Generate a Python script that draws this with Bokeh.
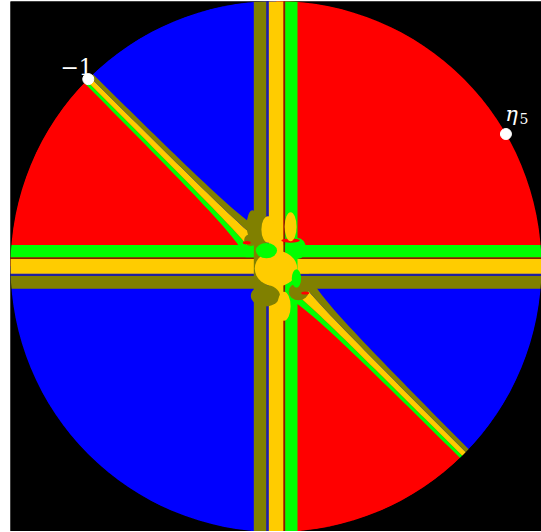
import numpy as np
from bokeh.plotting import figure
from bokeh.models import Range1d, ColumnDataSource
from bokeh.core.properties import value
from bokeh.embed import file_html
from bokeh.resources import INLINE

# ---- data ----
RED, BLUE, GREEN, YELLOW, OLIVE = "#FF0000", "#0000FF", "#00FF00", "#FFCC00", "#808000"
NAVY, BROWN = "#2020A0", "#802000"

sector_start_deg = [0, 90, 135, 180, 270, 315]
sector_end_deg = [90, 135, 180, 270, 315, 360]
sector_colors = [RED, BLUE, RED, BLUE, RED, BLUE]

# straight bands (offset across the band, unit-disk coords)
band_lo = [-0.0836, -0.0358, -0.0271, 0.0283, 0.0347]
band_hi = [-0.0358, -0.0271, 0.0283, 0.0347, 0.0810]
band_colors = [OLIVE, NAVY, YELLOW, BROWN, GREEN]

# diagonal band along y = -x (offset along normal (1,1)/sqrt2)
diag_lo = [-0.0216, -0.0090, 0.0102]
diag_hi = [-0.0090, 0.0102, 0.0264]
diag_colors = [GREEN, YELLOW, OLIVE]

# central blobs
blob_x = [0.000, -0.036, 0.081, -0.040, 0.085, 0.077, 0.055, -0.095, -0.088, 0.055, 0.030, -0.030, -0.110, 0.110]
blob_y = [-0.008, 0.060, 0.068, -0.110, -0.095, -0.045, 0.098, 0.100, 0.155, 0.150, -0.150, 0.140, 0.090, -0.100]
blob_w = [0.160, 0.080, 0.065, 0.110, 0.075, 0.035, 0.070, 0.050, 0.045, 0.045, 0.050, 0.050, 0.030, 0.030]
blob_h = [0.135, 0.058, 0.080, 0.080, 0.065, 0.070, 0.016, 0.045, 0.115, 0.110, 0.110, 0.100, 0.012, 0.012]
blob_colors = [YELLOW, GREEN, GREEN, OLIVE, OLIVE, GREEN, RED, OLIVE, OLIVE, YELLOW, YELLOW, YELLOW, RED, RED]

point_angles_deg = [135, 30]
point_labels = ["−1", "η"]

# ---- figure ----
p = figure(width=531, height=530, x_range=Range1d(-1, 1), y_range=Range1d(-1, 1),
           output_backend="svg", toolbar_location=None, min_border=0,
           x_axis_type=None, y_axis_type=None,
           background_fill_color="black", border_fill_color="white",
           outline_line_color=None, margin=(1, 0, 0, 10))

sec = ColumnDataSource(dict(s=np.radians(sector_start_deg), e=np.radians(sector_end_deg), c=sector_colors))
p.wedge(x=0, y=0, radius=1.0, start_angle="s", end_angle="e", fill_color="c", line_color="c", source=sec)

# diagonal tapered bands
n = np.array([1.0, 1.0]) / np.sqrt(2)
r = np.linspace(0.06, 1.1, 40)
f = (1 + 0.25 / r) / (1 + 0.25 / 0.85)
xs, ys = [], []
for lo, hi in zip(diag_lo, diag_hi):
    for sgn in (1, -1):
        u = np.array([-1.0, 1.0]) / np.sqrt(2) * sgn
        a = r[:, None] * u + (lo * f)[:, None] * n
        b = r[::-1, None] * u + (hi * f[::-1])[:, None] * n
        pts = np.vstack([a, b])
        xs.append(list(pts[:, 0]))
        ys.append(list(pts[:, 1]))
dcols = [c for c in diag_colors for _ in (1, -1)]
p.patches(xs, ys, fill_color=dcols, line_color=None)

bl = np.array(band_lo); bh = np.array(band_hi)
p.rect(x=0, y=(bl + bh) / 2, width=2.2, height=bh - bl, fill_color=band_colors, line_color=None)
p.rect(x=(bl + bh) / 2, y=0, width=bh - bl, height=2.2, fill_color=band_colors, line_color=None)

p.ellipse(x=blob_x, y=blob_y, width=blob_w, height=blob_h, fill_color=blob_colors, line_color=None)

# black mask outside the disk
p.annulus(x=0, y=0, inner_radius=1.0, outer_radius=3.0, fill_color="black", line_color=None)

pa = np.radians(point_angles_deg)
p.scatter(x=np.cos(pa), y=np.sin(pa), size=11, fill_color="white", line_color="white")

p.text(x=[-0.751], y=[0.751], text=[point_labels[0]], text_font=value("DejaVu Serif"),
       text_font_size="22px", text_color="white", text_align="center", text_baseline="alphabetic")
p.text(x=[0.863], y=[0.574], text=[point_labels[1]], text_font=value("DejaVu Serif"),
       text_font_style="italic", text_font_size="21px", text_color="white",
       text_align="left", text_baseline="alphabetic")
p.text(x=[0.917], y=[0.558], text=["5"], text_font=value("DejaVu Serif"),
       text_font_size="14px", text_color="white", text_align="left", text_baseline="alphabetic")

open("out.html", "w").write(file_html(p, INLINE))
